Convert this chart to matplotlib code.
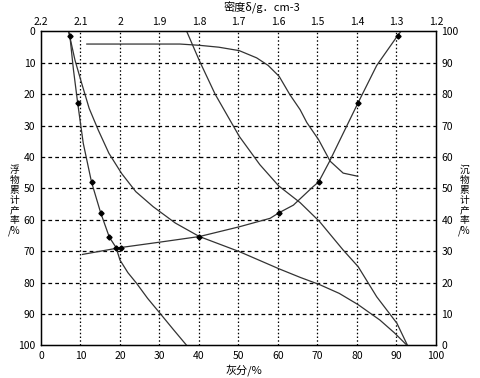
import numpy as np
import matplotlib
matplotlib.use("Agg")
import matplotlib.pyplot as plt

plt.rcParams['font.family'] = ['Noto Sans CJK SC', 'DejaVu Sans']

# beta curve: cumulative float ash (x) vs cumulative float yield (y)
beta_ash = [7.0, 7.3, 8.2, 9.3, 10.7, 12.8, 15.1, 17.3, 19.0, 20.0, 22.0, 24.2, 27.0, 30.1, 33.5, 36.9]
beta_yield = [0.0, 1.3, 12.0, 22.9, 35.6, 48.0, 57.7, 65.5, 68.8, 72.8, 76.8, 80.2, 85.0, 89.7, 94.9, 100.0]
beta_mark = [1, 3, 5, 6, 7, 8]

# lambda curve: elementary ash
lam_ash = [7.0, 8.6, 10.3, 12.2, 14.5, 17.2, 20.4, 24.0, 28.4, 34.0, 40.1, 50.2, 60.3,
           65.6, 70.5, 75.5, 80.3, 85.8, 89.5, 92.7]
lam_yield = [0.0, 9.1, 16.5, 24.5, 31.4, 38.8, 45.2, 51.0, 55.8, 61.0, 65.3, 70.1, 75.6,
             78.3, 80.6, 83.4, 87.0, 91.9, 96.0, 100.0]

# theta curve: cumulative sink ash
theta_ash = [36.9, 40.1, 44.1, 50.2, 55.4, 60.2, 65.6, 70.5, 76.5, 80.3, 85.0, 90.1, 92.8]
theta_yield = [0.0, 9.3, 20.0, 33.4, 42.4, 49.2, 54.5, 60.5, 69.6, 74.9, 84.5, 92.9, 100.0]

# density curve (x read on the top density scale)
dens_x = [10.5, 20.2, 30.0, 40.1, 50.2, 58.0, 60.3, 63.9, 68.9, 70.3, 73.0, 75.7, 80.2, 85.0, 90.3, 91.1]
dens_yield = [71.0, 68.8, 67.1, 65.3, 62.2, 59.5, 57.7, 55.3, 49.4, 47.9, 41.5, 34.5, 22.9, 10.8, 1.3, 0.0]
dens_mark = [1, 3, 6, 9, 12, 14]

# epsilon curve: +-0.1 density content
eps_x = [11.6, 35.2, 40.1, 45.0, 50.2, 54.6, 57.5, 60.3, 63.0, 65.6, 67.3, 70.3, 73.2, 76.5, 80.2]
eps_y = [4.0, 4.0, 4.4, 5.0, 6.1, 8.4, 10.8, 14.3, 20.1, 24.9, 29.0, 34.5, 41.3, 45.1, 46.1]

density_ticks = ["2.2", "2.1", "2", "1.9", "1.8", "1.7", "1.6", "1.5", "1.4", "1.3", "1.2"]

fig = plt.figure(figsize=(4.8, 3.78), dpi=100)
ax = fig.add_axes([0.0854, 0.086, 0.8229, 0.8307])

ax.set_xlim(0, 100)
ax.set_ylim(100, 0)
ax.set_xticks(np.arange(0, 101, 10))
ax.set_yticks(np.arange(0, 101, 10))
for v in range(10, 100, 10):
    ax.axvline(v, color='black', lw=0.9, ls=(0, (1.2, 1.8)), zorder=1)
    ax.axhline(v, color='black', lw=0.9, ls=(0, (3, 2.5)), zorder=1)

lc = '#333333'
ax.plot(beta_ash, beta_yield, color=lc, lw=0.9, zorder=3)
ax.plot([beta_ash[i] for i in beta_mark], [beta_yield[i] for i in beta_mark],
        ls='none', marker='D', ms=2.6, color='black', zorder=4)
ax.plot(lam_ash, lam_yield, color=lc, lw=0.9, zorder=3)
ax.plot(theta_ash, theta_yield, color=lc, lw=0.9, zorder=3)
ax.plot(dens_x, dens_yield, color=lc, lw=0.9, zorder=3)
ax.plot([dens_x[i] for i in dens_mark], [dens_yield[i] for i in dens_mark],
        ls='none', marker='D', ms=2.6, color='black', zorder=4)
ax.plot(eps_x, eps_y, color=lc, lw=0.9, zorder=3)

for s in ax.spines.values():
    s.set_linewidth(1.0)
    s.set_color('#333333')

ax.tick_params(length=0, labelsize=7.5, pad=4)

axr = ax.twinx()
axr.set_ylim(0, 100)
axr.set_yticks(np.arange(0, 101, 10))
axr.tick_params(length=0, labelsize=7.5, pad=4)

axt = ax.twiny()
axt.set_xlim(0, 100)
axt.set_xticks(np.arange(0, 101, 10))
axt.set_xticklabels(density_ticks)
axt.tick_params(length=0, labelsize=7.5, pad=3)

fig.text(0.545, 0.978, "密度δ/g．cm-3", ha='center', va='center', fontsize=8)
fig.text(0.508, 0.022, "灰分/%", ha='center', va='center', fontsize=8)
fig.text(0.03, 0.47, "浮\n物\n累\n计\n产\n率\n/%", ha='center', va='center',
         fontsize=7, linespacing=1.0)
fig.text(0.967, 0.47, "沉\n物\n累\n计\n产\n率\n/%", ha='center', va='center',
         fontsize=7, linespacing=1.0)

fig.savefig("out.png", dpi=100)
